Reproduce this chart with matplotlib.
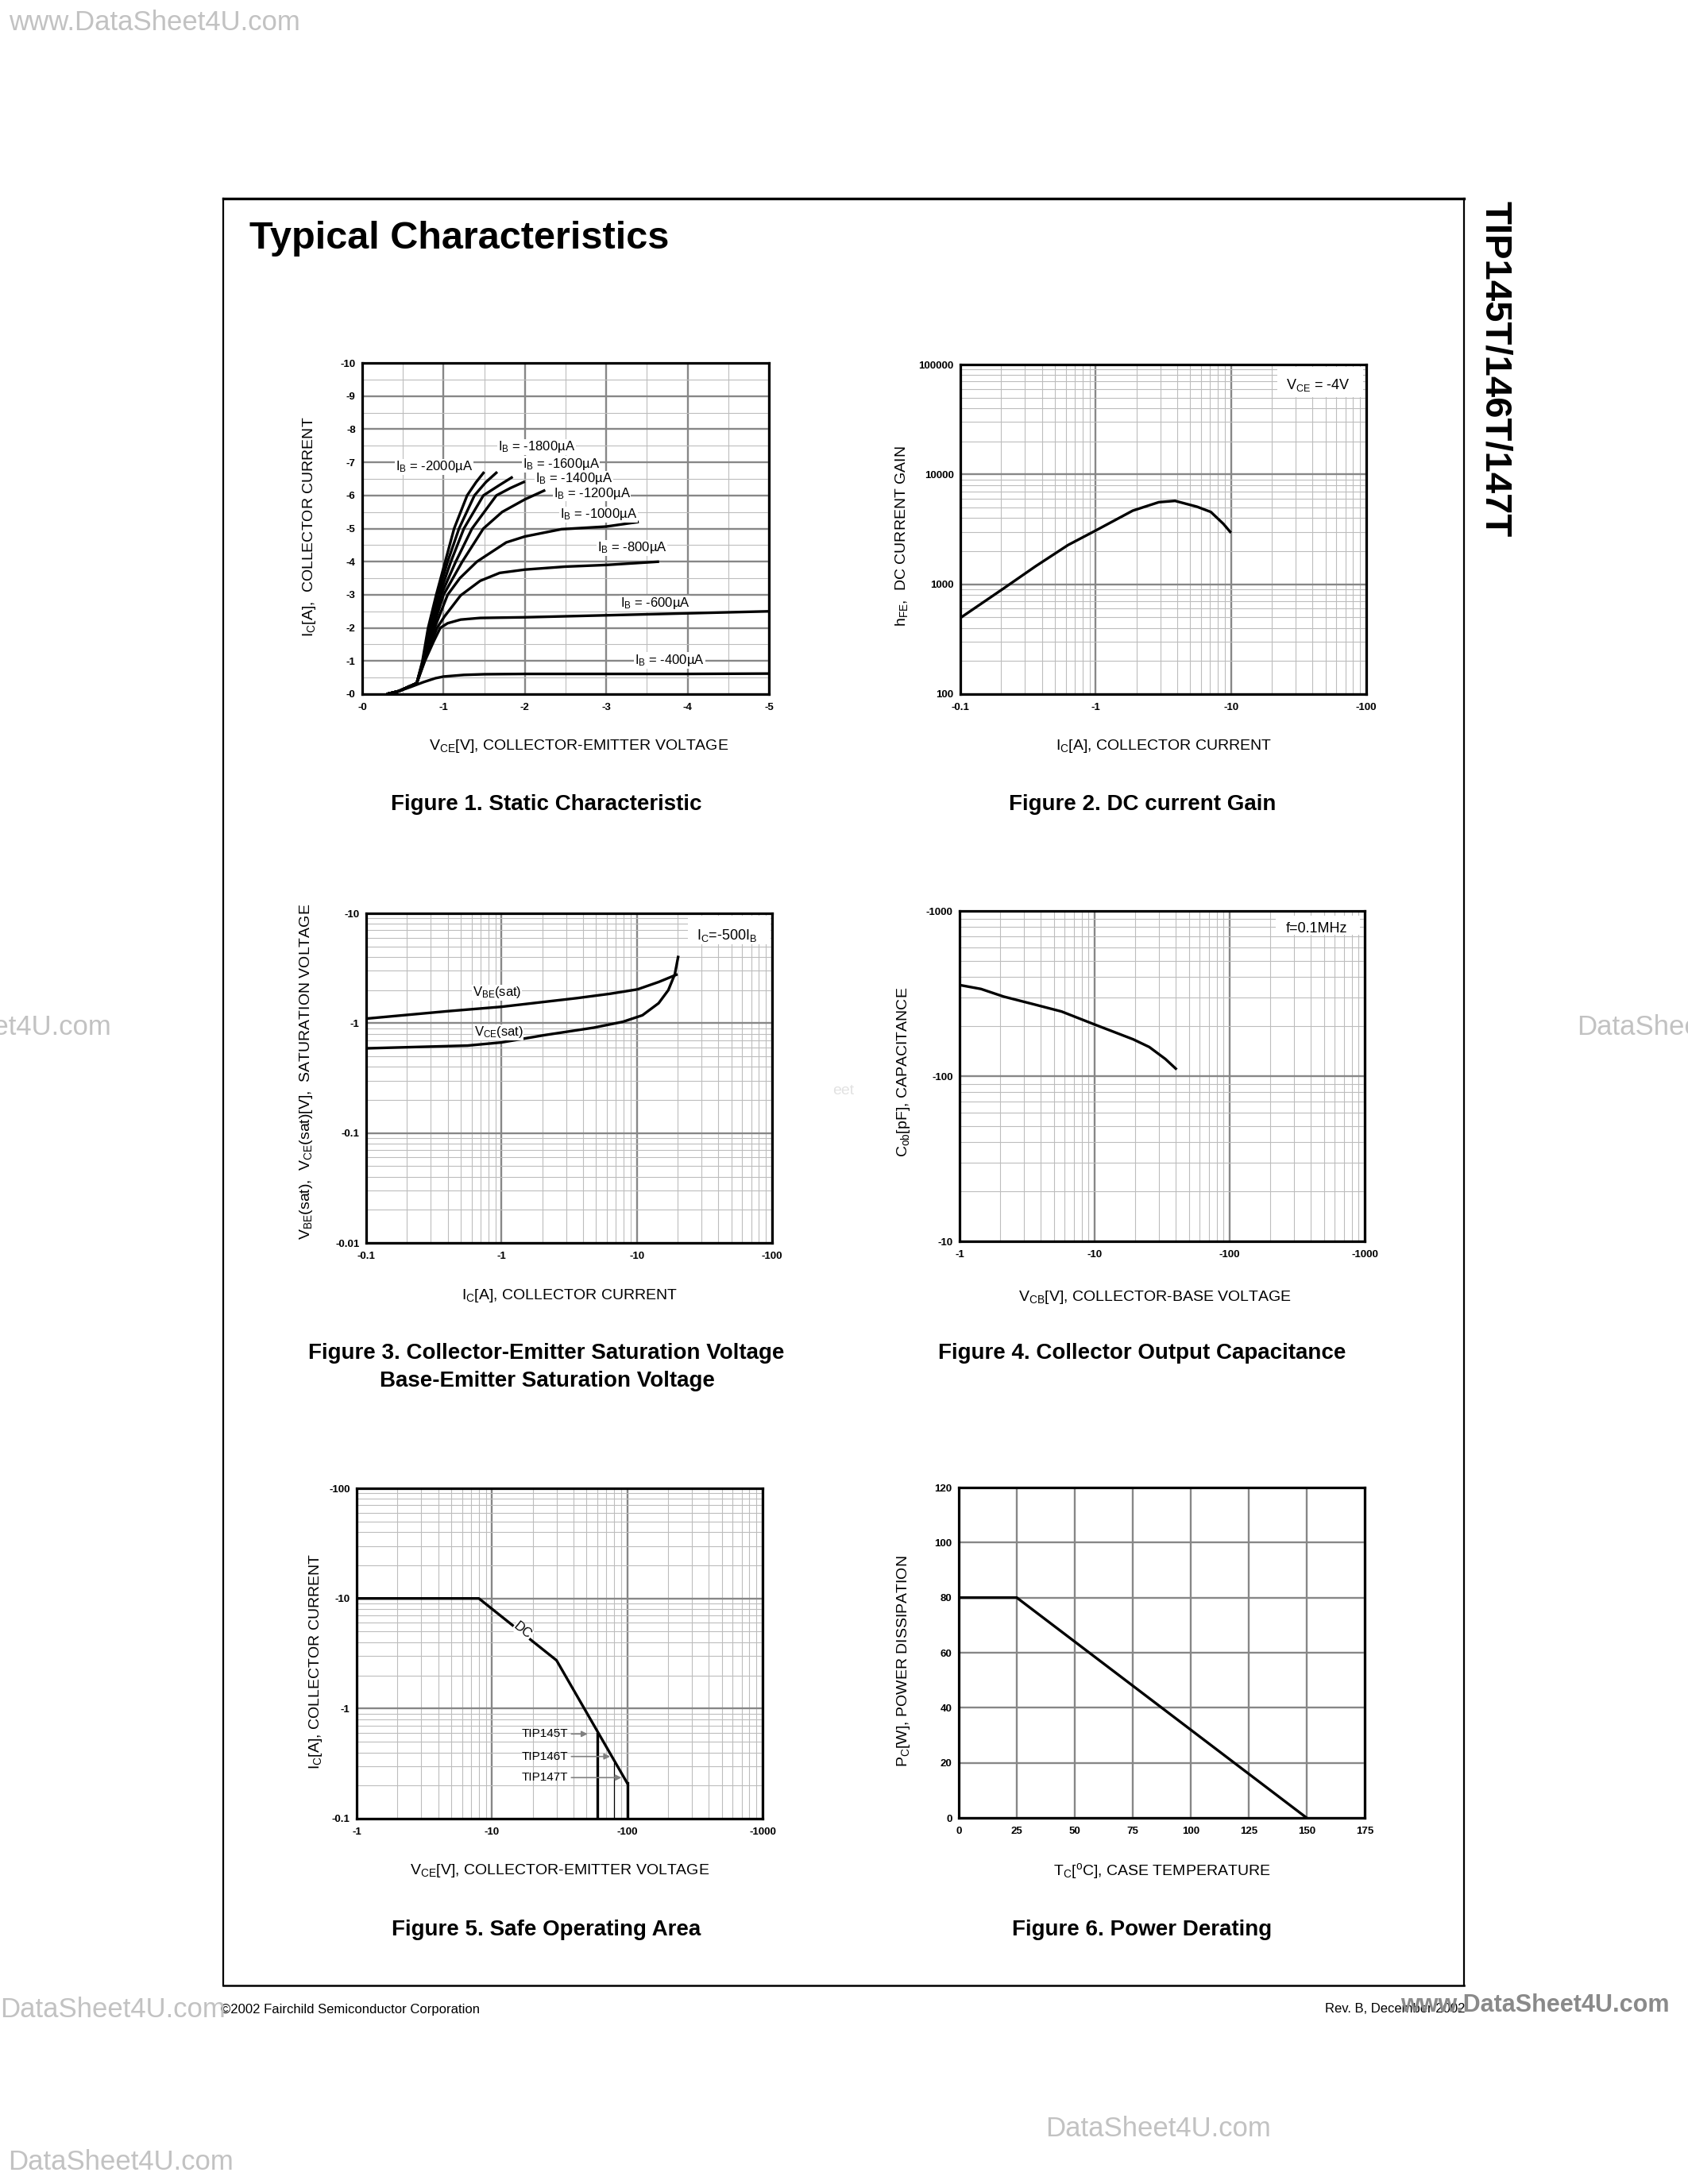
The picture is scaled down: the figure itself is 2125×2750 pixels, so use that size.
import numpy as np
import matplotlib
matplotlib.use('Agg')
import matplotlib.pyplot as plt
from matplotlib.ticker import LogLocator, MultipleLocator, NullFormatter
from matplotlib.patches import Rectangle
from matplotlib.lines import Line2D

plt.rcParams['font.family'] = 'Liberation Sans'
plt.rcParams['mathtext.fontset'] = 'custom'
plt.rcParams['mathtext.rm'] = 'Liberation Sans'
plt.rcParams['mathtext.it'] = 'Liberation Sans'
plt.rcParams['mathtext.bf'] = 'Liberation Sans:bold'
plt.rcParams['mathtext.default'] = 'regular'

# Figure 1 - static characteristic (VCE [V], IC [A], both negative)
ib_names = ['-400', '-600', '-800', '-1000', '-1200', '-1400', '-1600', '-1800', '-2000']
vce_400 = [-0.30, -0.45, -0.60, -0.75, -0.90, -1.0, -1.25, -1.5, -2.0, -3.0, -4.0, -5.0]
ic_400 = [0, -0.09, -0.22, -0.36, -0.48, -0.53, -0.58, -0.60, -0.61, -0.61, -0.61, -0.62]
vce_600 = [-0.30, -0.45, -0.67, -0.77, -0.88, -0.96, -1.05, -1.21, -1.45, -2.0, -3.0, -4.0, -5.0]
ic_600 = [0, -0.09, -0.33, -1.0, -1.6, -2.0, -2.14, -2.25, -2.30, -2.32, -2.38, -2.44, -2.5]
vce_800 = [-0.30, -0.45, -0.67, -0.765, -0.92, -1.01, -1.21, -1.45, -1.69, -2.0, -2.5, -3.0, -3.65]
ic_800 = [0, -0.09, -0.33, -1.0, -2.0, -2.34, -2.98, -3.42, -3.66, -3.76, -3.85, -3.9, -4.0]
vce_1000 = [-0.30, -0.45, -0.67, -0.76, -0.89, -1.05, -1.2, -1.41, -1.77, -2.0, -2.45, -3.0, -3.4]
ic_1000 = [0, -0.09, -0.33, -1.0, -2.0, -3.0, -3.5, -4.0, -4.58, -4.76, -4.98, -5.06, -5.2]
vce_1200 = [-0.30, -0.45, -0.67, -0.755, -0.87, -1.0, -1.23, -1.49, -1.72, -2.0, -2.25]
ic_1200 = [0, -0.09, -0.33, -1.0, -2.0, -3.0, -4.0, -5.0, -5.5, -5.88, -6.16]
vce_1400 = [-0.30, -0.45, -0.67, -0.75, -0.86, -0.97, -1.15, -1.35, -1.65, -1.82, -2.0]
ic_1400 = [0, -0.09, -0.33, -1.0, -2.0, -3.0, -4.0, -5.0, -6.0, -6.22, -6.42]
vce_1600 = [-0.30, -0.45, -0.67, -0.75, -0.845, -0.95, -1.09, -1.25, -1.49, -1.68, -1.85]
ic_1600 = [0, -0.09, -0.33, -1.0, -2.0, -3.0, -4.0, -5.0, -6.0, -6.3, -6.56]
vce_1800 = [-0.30, -0.45, -0.67, -0.745, -0.83, -0.93, -1.05, -1.19, -1.38, -1.52, -1.66]
ic_1800 = [0, -0.09, -0.33, -1.0, -2.0, -3.0, -4.0, -5.0, -6.0, -6.4, -6.71]
vce_2000 = [-0.30, -0.45, -0.67, -0.74, -0.81, -0.91, -1.02, -1.13, -1.29, -1.40, -1.5]
ic_2000 = [0, -0.09, -0.33, -1.0, -2.0, -3.0, -4.0, -5.0, -6.0, -6.4, -6.71]
fig1_vce = [vce_400, vce_600, vce_800, vce_1000, vce_1200, vce_1400, vce_1600, vce_1800, vce_2000]
fig1_ic = [ic_400, ic_600, ic_800, ic_1000, ic_1200, ic_1400, ic_1600, ic_1800, ic_2000]
# where each IB label sits (left edge, centre)
lab_x = [-3.35, -3.17, -2.89, -2.43, -2.35, -2.13, -1.97, -1.67, -0.41]
lab_y = [-1.02, -2.74, -4.42, -5.42, -6.06, -6.50, -6.94, -7.46, -6.86]

# Figure 2 - DC current gain (magnitudes, axis labelled negative)
hfe_ic = [0.1, 0.207, 0.36, 0.625, 1.0, 1.88, 2.93, 3.86, 5.6, 7.1, 8.8, 9.86]
hfe = [494, 910, 1459, 2275, 3083, 4677, 5585, 5741, 5082, 4550, 3540, 2999]

# Figure 3 - saturation voltages (magnitudes)
vbe_ic = [0.1, 0.4, 1.0, 3.6, 6.3, 10.1, 14.5, 19.6]
vbe_sat = [1.10, 1.285, 1.41, 1.69, 1.85, 2.03, 2.37, 2.76]
vce_ic = [0.1, 0.56, 1.0, 2.1, 4.8, 7.9, 11.0, 14.5, 17.1, 19.1, 20.2]
vce_sat = [0.59, 0.625, 0.668, 0.78, 0.91, 1.03, 1.18, 1.52, 2.0, 2.79, 4.0]

# Figure 4 - output capacitance (magnitudes)
vcb = [1, 1.44, 2.12, 3.68, 5.7, 9.9, 19.3, 25.4, 33.4, 39.9]
cob = [356, 337, 303, 270, 246, 206, 167, 150, 127, 111]

# Figure 5 - safe operating area (magnitudes)
soa_v = [1, 8, 30, 60, 80, 100]
soa_i = [10, 10, 2.74, 0.59, 0.32, 0.21]
part_names = ['TIP145T', 'TIP146T', 'TIP147T']
part_vmax = [60, 80, 100]
part_lab_i = [0.588, 0.367, 0.236]
part_arrow_v = [50.9, 74.8, 90.7]

# Figure 6 - power derating
tc = [0, 25, 150]
pd = [80, 80, 0]

W, H = 2125, 2750
fig = plt.figure(figsize=(W / 100, H / 100), dpi=100)

MAJ = '#878787'
MIN = '#bdbdbd'


def add_box(x0, y0, x1, y1):
    return fig.add_axes([x0 / W, 1 - y1 / H, (x1 - x0) / W, (y1 - y0) / H])


def ftext(x, y, s, **kw):
    return fig.text(x / W, 1 - y / H, s, **kw)


def style(ax, xticks, xlabels, yticks, ylabels, minor=True):
    ax.set_xticks(xticks)
    ax.set_xticklabels(xlabels, fontweight='bold', fontsize=9.5)
    ax.set_yticks(yticks)
    ax.set_yticklabels(ylabels, fontweight='bold', fontsize=9.5)
    ax.tick_params(which='both', length=0)
    ax.tick_params(axis='x', pad=8)
    ax.tick_params(axis='y', pad=6)
    ax.grid(which='major', color=MAJ, lw=1.7)
    if minor:
        ax.grid(which='minor', color=MIN, lw=0.8)
    ax.xaxis.set_minor_formatter(NullFormatter())
    ax.yaxis.set_minor_formatter(NullFormatter())
    ax.set_axisbelow(True)
    for sp in ax.spines.values():
        sp.set_linewidth(2.3)


def logaxes(ax):
    ax.set_xscale('log')
    ax.set_yscale('log')
    ax.xaxis.set_minor_locator(LogLocator(base=10, subs=np.arange(2, 10)))
    ax.yaxis.set_minor_locator(LogLocator(base=10, subs=np.arange(2, 10)))


def corner_note(ax, x0, y0, x1, y1, s, tx, ty):
    ax.add_patch(Rectangle((x0, y0), x1 - x0, y1 - y0, transform=ax.transAxes,
                           facecolor='white', edgecolor='none', zorder=1))
    ax.text(tx, ty, s, transform=ax.transAxes, ha='center', va='center', fontsize=13, zorder=3)


LW = 2.4

# ---- Figure 1
ax1 = add_box(456, 457, 968, 874)
for vx, iy in zip(fig1_vce, fig1_ic):
    ax1.plot(vx, iy, color='black', lw=LW, solid_capstyle='butt')
for name, x, y in zip(ib_names, lab_x, lab_y):
    ax1.text(x, y, 'I$_B$ = ' + name + '\u00b5A', fontsize=12, ha='left', va='center',
             bbox=dict(facecolor='white', edgecolor='none', pad=0.5), zorder=3)
ax1.set_xlim(0, -5)
ax1.set_ylim(0, -10)
ax1.xaxis.set_minor_locator(MultipleLocator(0.5))
ax1.yaxis.set_minor_locator(MultipleLocator(0.5))
style(ax1, [0, -1, -2, -3, -4, -5], ['-0', '-1', '-2', '-3', '-4', '-5'],
      list(range(0, -11, -1)), ['-0'] + ['-%d' % k for k in range(1, 11)])
ax1.set_xlim(0, -5)
ax1.set_ylim(0, -10)

# ---- Figure 2
ax2 = add_box(1209, 459, 1720, 874)
logaxes(ax2)
ax2.plot(hfe_ic, hfe, color='black', lw=LW)
ax2.set_xlim(0.1, 100)
ax2.set_ylim(100, 100000)
style(ax2, [0.1, 1, 10, 100], ['-0.1', '-1', '-10', '-100'],
      [100, 1000, 10000, 100000], ['100', '1000', '10000', '100000'])
ax2.set_xlim(0.1, 100)
ax2.set_ylim(100, 100000)
corner_note(ax2, 0.781, 0.901, 0.992, 0.993, 'V$_{CE}$ = -4V', 0.881, 0.937)

# ---- Figure 3
ax3 = add_box(461, 1150, 972, 1565)
logaxes(ax3)
ax3.plot(vbe_ic, vbe_sat, color='black', lw=LW)
ax3.plot(vce_ic, vce_sat, color='black', lw=LW)
ax3.text(0.61, 1.9, 'V$_{BE}$(sat)', fontsize=12, ha='left', va='center',
         bbox=dict(facecolor='white', edgecolor='none', pad=0.5), zorder=3)
ax3.text(0.626, 0.825, 'V$_{CE}$(sat)', fontsize=12, ha='left', va='center',
         bbox=dict(facecolor='white', edgecolor='none', pad=0.5), zorder=3)
style(ax3, [0.1, 1, 10, 100], ['-0.1', '-1', '-10', '-100'],
      [0.01, 0.1, 1, 10], ['-0.01', '-0.1', '-1', '-10'])
ax3.set_xlim(0.1, 100)
ax3.set_ylim(0.01, 10)
corner_note(ax3, 0.793, 0.906, 0.996, 0.993, 'I$_C$=-500I$_B$', 0.888, 0.933)

# ---- Figure 4
ax4 = add_box(1208, 1147, 1718, 1563)
logaxes(ax4)
ax4.plot(vcb, cob, color='black', lw=LW)
style(ax4, [1, 10, 100, 1000], ['-1', '-10', '-100', '-1000'],
      [10, 100, 1000], ['-10', '-100', '-1000'])
ax4.set_xlim(1, 1000)
ax4.set_ylim(10, 1000)
corner_note(ax4, 0.780, 0.928, 0.988, 0.986, 'f=0.1MHz', 0.882, 0.945)

# ---- Figure 5
ax5 = add_box(449, 1874, 960, 2290)
logaxes(ax5)
soa_keep = [0, 1, 2, 5]
ax5.plot([soa_v[k] for k in soa_keep], [soa_i[k] for k in soa_keep], color='black', lw=LW)
for name, vmax, li, av in zip(part_names, part_vmax, part_lab_i, part_arrow_v):
    top = soa_i[soa_v.index(vmax)]
    ax5.plot([vmax, vmax], [top, 0.1], color='black', lw=LW if vmax != 80 else 0.9)
    ax5.annotate(name, xy=(av, li), xytext=(36.5, li), ha='right', va='center', fontsize=11,
                 arrowprops=dict(arrowstyle='-|>', color='#808080', lw=1.2, mutation_scale=11,
                                 shrinkA=1, shrinkB=0))
ax5.text(16.9, 5.09, 'DC', fontsize=12, ha='center', va='center', rotation=-39,
         bbox=dict(facecolor='white', edgecolor='none', pad=0.5), zorder=3)
style(ax5, [1, 10, 100, 1000], ['-1', '-10', '-100', '-1000'],
      [0.1, 1, 10, 100], ['-0.1', '-1', '-10', '-100'])
ax5.set_xlim(1, 1000)
ax5.set_ylim(0.1, 100)

# ---- Figure 6
ax6 = add_box(1207, 1873, 1718, 2289)
ax6.plot(tc, pd, color='black', lw=LW)
style(ax6, list(range(0, 176, 25)), [str(k) for k in range(0, 176, 25)],
      list(range(0, 121, 20)), [str(k) for k in range(0, 121, 20)], minor=False)
ax6.set_xlim(0, 175)
ax6.set_ylim(0, 120)

# axis labels
ftext(729, 940, 'V$_{CE}$[V], COLLECTOR-EMITTER VOLTAGE', fontsize=14, ha='center', va='center')
ftext(390, 663, 'I$_C$[A],  COLLECTOR CURRENT', fontsize=14, ha='center', va='center', rotation=90)
ftext(1465, 940, 'I$_C$[A], COLLECTOR CURRENT', fontsize=14, ha='center', va='center')
ftext(1135, 675, 'h$_{FE}$,  DC CURRENT GAIN', fontsize=14, ha='center', va='center', rotation=90)
ftext(717, 1631, 'I$_C$[A], COLLECTOR CURRENT', fontsize=14, ha='center', va='center')
ftext(386, 1349, 'V$_{BE}$(sat),  V$_{CE}$(sat)[V],  SATURATION VOLTAGE', fontsize=14,
      ha='center', va='center', rotation=90)
ftext(1454, 1634, 'V$_{CB}$[V], COLLECTOR-BASE VOLTAGE', fontsize=14, ha='center', va='center')
ftext(1137, 1350, 'C$_{ob}$[pF], CAPACITANCE', fontsize=14, ha='center', va='center', rotation=90)
ftext(705, 2355, 'V$_{CE}$[V], COLLECTOR-EMITTER VOLTAGE', fontsize=14, ha='center', va='center')
ftext(397, 2092, 'I$_C$[A], COLLECTOR CURRENT', fontsize=14, ha='center', va='center', rotation=90)
ftext(1463, 2356, 'T$_C$[$^o$C], CASE TEMPERATURE', fontsize=14, ha='center', va='center')
ftext(1137, 2092, 'P$_C$[W], POWER DISSIPATION', fontsize=14, ha='center', va='center', rotation=90)

# captions
cap = dict(fontsize=20, fontweight='bold', ha='center', va='center')
ftext(688, 1013, 'Figure 1. Static Characteristic', **cap)
ftext(1438, 1013, 'Figure 2. DC current Gain', **cap)
ftext(688, 1704, 'Figure 3. Collector-Emitter Saturation Voltage', **cap)
ftext(689, 1739, 'Base-Emitter Saturation Voltage', **cap)
ftext(1438, 1704, 'Figure 4. Collector Output Capacitance', **cap)
ftext(688, 2430, 'Figure 5. Safe Operating Area', **cap)
ftext(1438, 2430, 'Figure 6. Power Derating', **cap)

# page frame and headings
for xs, ys, lw in [([281, 1843], [250, 250], 2.4), ([281, 281], [250, 2500], 1.6),
                   ([1843, 1843], [250, 2500], 1.6), ([281, 1843], [2500, 2500], 1.8)]:
    fig.add_artist(Line2D([x / W for x in xs], [1 - y / H for y in ys], color='black', lw=lw))
ftext(314, 313, 'Typical Characteristics', fontsize=35, fontweight='bold', ha='left', va='baseline')
ftext(1882, 465, 'TIP145T/146T/147T', fontsize=34, fontweight='bold', ha='center', va='center',
      rotation=-90)
ftext(278, 2530, '\u00a92002 Fairchild Semiconductor Corporation', fontsize=12, ha='left', va='center')
ftext(1845, 2530, 'Rev. B, December 2002', fontsize=12, ha='right', va='center')

# watermarks
wm = dict(color='#c2c2c2', fontsize=25, va='center')
ftext(11, 28, 'www.DataSheet4U.com', ha='left', **wm)
ftext(140, 1293, 'DataSheet4U.com', ha='right', **wm)
ftext(1985, 1293, 'DataSheet4U.com', ha='left', **wm)
ftext(284, 2530, 'DataSheet4U.com', ha='right', **wm)
ftext(1316, 2680, 'DataSheet4U.com', ha='left', **wm)
ftext(10, 2722, 'DataSheet4U.com', ha='left', **wm)
ftext(1048, 1373, 'eet', color='#e2e2e2', fontsize=14, ha='left', va='center')
ftext(1763, 2525, 'www.DataSheet4U.com', color='#8a8a8a', fontsize=22, fontweight='bold',
      ha='left', va='center')

fig.savefig('out.png', dpi=100, facecolor='white')
